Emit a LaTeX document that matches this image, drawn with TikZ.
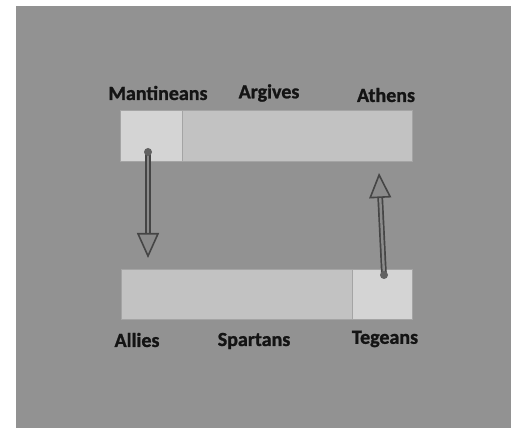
\documentclass[tikz,border=0pt]{standalone}
\usepackage{fontspec}
\setmainfont{Carlito}
\newfontfamily\labelfont[FakeBold=1.2]{Carlito Bold}
\usetikzlibrary{arrows.meta}
\definecolor{panel}{HTML}{929292}
\definecolor{barfill}{HTML}{C2C2C2}
\definecolor{barlight}{HTML}{D4D4D4}
\definecolor{barline}{HTML}{A4A4A4}
\definecolor{ink}{HTML}{141414}
\definecolor{arrowdark}{HTML}{454545}
\definecolor{arrowmid}{HTML}{8A8A8A}
\tikzset{
  seg/.style={draw=barline, line width=0.8pt, fill=barfill},
  seglight/.style={seg, fill=barlight},
  lbl/.style={font=\labelfont\fontsize{20}{22}\selectfont, text=ink, inner sep=0pt, anchor=center},
  dot/.style={circle, fill=arrowdark!85!white, inner sep=0pt, minimum size=8pt},
  shaft/.style={line width=1.7pt, draw=arrowdark, double=arrowmid, double distance=2.4pt,
    -{Triangle[width=22pt,length=25pt,fill=arrowmid,line width=1.6pt]}},
}
\begin{document}
\begin{tikzpicture}[x=1pt,y=1pt]
\useasboundingbox (0,0) rectangle (516,428);
\fill[white] (0,0) rectangle (516,428);
\fill[panel] (16,0) rectangle (511,422);
% upper bar
\draw[seglight] (120,267) rectangle (182,318);
\draw[seg] (182,267) rectangle (412,318);
% lower bar
\draw[seg] (121,109) rectangle (352,159);
\draw[seglight] (352,109) rectangle (412,159);
% labels
\node[lbl] (mant) at (158,335) {Mantineans};
\node[lbl] (arg) at (269,335) {Argives};
\node[lbl] (ath) at (386,333) {Athens};
\node[lbl] (all) at (137,88) {Allies};
\node[lbl] (spa) at (254,87) {Spartans};
\node[lbl] (teg) at (385,89) {Tegeans};
% arrows
\coordinate (mdot) at (148,276);
\coordinate (mtip) at (148,170);
\coordinate (tdot) at (384,153);
\coordinate (ttip) at (379,255);
\draw[shaft] (mdot) -- (mtip);
\draw[shaft] (tdot) -- (ttip);
\node[dot] (md) at (mdot) {};
\node[dot] (td) at (tdot) {};
\end{tikzpicture}
\end{document}
